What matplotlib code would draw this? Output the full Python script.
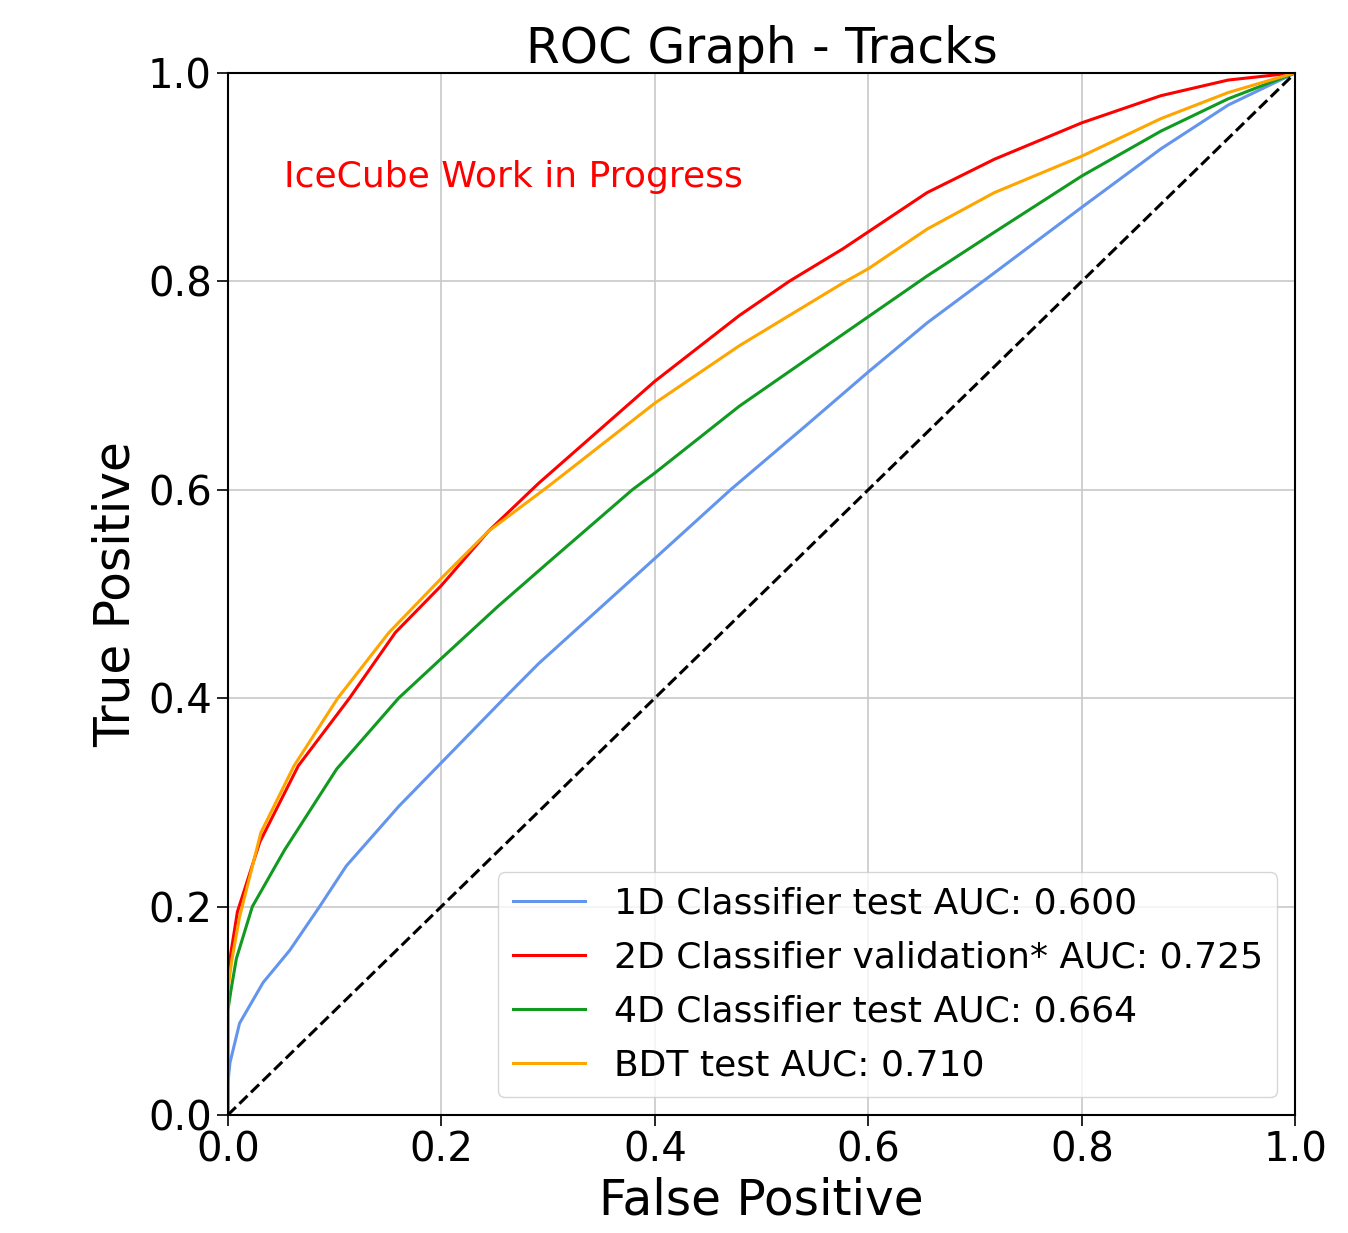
import matplotlib.pyplot as plt
import numpy as np

# ROC curves (false positive, true positive)
fp_1d = [0.0, 0.0, 0.002, 0.011, 0.033, 0.058, 0.086, 0.111, 0.16, 0.2, 0.259, 0.291,
         0.4, 0.471, 0.541, 0.6, 0.655, 0.718, 0.8, 0.874, 0.937, 1.0]
tp_1d = [0.0, 0.03, 0.05, 0.088, 0.127, 0.158, 0.2, 0.239, 0.296, 0.338, 0.40, 0.433,
         0.534, 0.6, 0.661, 0.713, 0.76, 0.808, 0.871, 0.927, 0.969, 1.0]

fp_2d = [0.0, 0.0, 0.002, 0.009, 0.03, 0.066, 0.114, 0.157, 0.2, 0.244, 0.291,
         0.4, 0.479, 0.526, 0.576, 0.655, 0.718, 0.8, 0.874, 0.937, 1.0]
tp_2d = [0.0, 0.13, 0.15, 0.195, 0.262, 0.335, 0.40, 0.463, 0.508, 0.56, 0.606,
         0.704, 0.767, 0.80, 0.831, 0.885, 0.917, 0.952, 0.978, 0.993, 1.0]

fp_4d = [0.0, 0.0, 0.003, 0.008, 0.023, 0.053, 0.102, 0.16, 0.2, 0.253, 0.3, 0.379,
         0.4, 0.479, 0.6, 0.655, 0.718, 0.8, 0.874, 0.937, 1.0]
tp_4d = [0.0, 0.10, 0.12, 0.15, 0.20, 0.254, 0.332, 0.40, 0.438, 0.488, 0.53, 0.60,
         0.616, 0.68, 0.766, 0.805, 0.847, 0.901, 0.944, 0.975, 1.0]

fp_bdt = [0.0, 0.0, 0.004, 0.011, 0.031, 0.062, 0.103, 0.151, 0.2, 0.244, 0.3,
          0.4, 0.479, 0.579, 0.6, 0.655, 0.718, 0.8, 0.874, 0.937, 1.0]
tp_bdt = [0.0, 0.12, 0.15, 0.19, 0.271, 0.335, 0.40, 0.463, 0.515, 0.56, 0.603,
          0.683, 0.738, 0.80, 0.812, 0.85, 0.885, 0.92, 0.956, 0.981, 1.0]

labels = ["1D Classifier test AUC: 0.600",
          "2D Classifier validation* AUC: 0.725",
          "4D Classifier test AUC: 0.664",
          "BDT test AUC: 0.710"]

fig = plt.figure(figsize=(13.48, 12.33), dpi=100)
ax = fig.add_axes([0.169, 0.0957, 0.792, 0.8453])

ax.plot(fp_1d, tp_1d, color="#6495ED", lw=2.2, label=labels[0])
ax.plot(fp_2d, tp_2d, color="red", lw=2.2, label=labels[1])
ax.plot(fp_4d, tp_4d, color="#109a20", lw=2.2, label=labels[2])
ax.plot(fp_bdt, tp_bdt, color="orange", lw=2.2, label=labels[3])
ax.plot([0, 1], [0, 1], "k--", lw=2.2)

ax.set_xlim(0, 1)
ax.set_ylim(0, 1)
ax.set_xticks(np.arange(0, 1.01, 0.2))
ax.set_yticks(np.arange(0, 1.01, 0.2))
ax.tick_params(labelsize=29, length=8, width=1.2)
ax.grid(True, color="#c8c8c8", lw=1.2)
for s in ax.spines.values():
    s.set_linewidth(1.5)

ax.set_title("ROC Graph - Tracks", fontsize=35, pad=4)
ax.set_xlabel("False Positive", fontsize=35, labelpad=4)
ax.set_ylabel("True Positive", fontsize=35, labelpad=6)

ax.text(0.053, 0.89, "IceCube Work in Progress", color="red", fontsize=26,
        transform=ax.transAxes)

ax.legend(loc="lower right", fontsize=26, handlelength=2.0, labelspacing=0.55)

fig.savefig("out.png")
